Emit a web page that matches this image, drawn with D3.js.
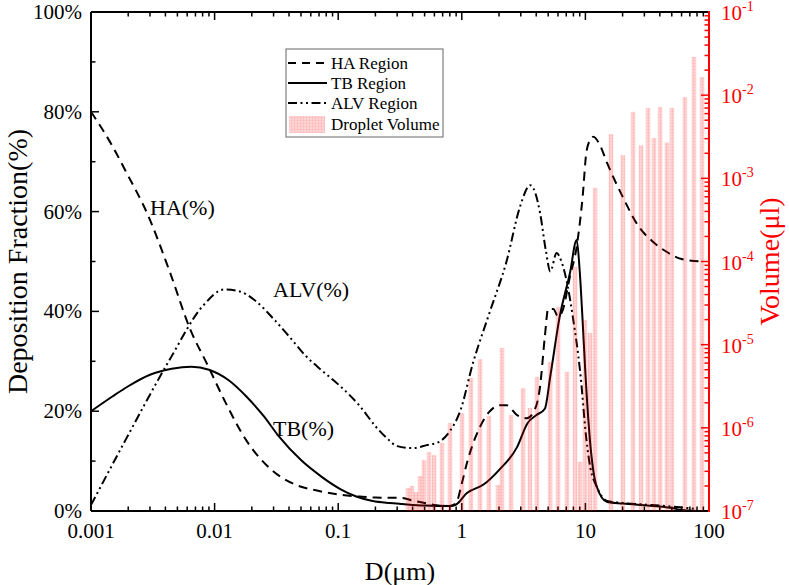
<!DOCTYPE html>
<html><head><meta charset="utf-8">
<script src="https://cdn.jsdelivr.net/npm/d3@7"></script>
<style>body{margin:0;background:#fff} svg{display:block} text{font-family:"Liberation Serif","Times New Roman",serif}</style>
</head><body><svg id="c" width="789" height="585"></svg>
<script>
// ---- data ----
const haD=[0.001,0.0015,0.0019,0.0029,0.0043,0.0064,0.0088,0.012,0.018,0.029,0.046,0.07,0.1,0.15,0.2,0.33,0.4,0.5,0.6,0.7,0.8,0.9,1.0,1.1,1.4,1.66,2.04,2.3,2.8,3.37,3.8,4.3,4.7,5.0,5.5,6.0,6.5,7.5,8.5,9.5,10.2,11,11.6,13,15,20,27,35,45,60,90];
const haP=[80,73,68.2,59.2,48.2,36.2,29.2,22.2,14.2,8.2,5.2,4.0,3.3,2.9,2.7,2.6,2.1,1.6,1.2,1.0,1.0,1.6,5.5,9.6,16.8,19.8,21.2,21.2,19.2,18.6,19.8,25,35,40.5,40.5,39,40,47,53,63,72,74.5,75,73.5,69.7,63,57,54,52,50.5,50];
const tbD=[0.001,0.0015,0.002,0.003,0.0045,0.0065,0.009,0.013,0.018,0.025,0.033,0.05,0.074,0.104,0.14,0.19,0.26,0.33,0.5,0.8,0.9,1.1,1.5,2.0,2.8,3.4,4.0,4.7,5.2,6.2,7.5,8.5,9.0,9.5,10,10.9,12.3,15,20,28,50,60,80];
const tbP=[20,23,25,27.3,28.5,28.9,28.3,26.2,23,19,15,10.2,6.8,4.4,2.9,2.0,1.6,1.4,1.1,1.0,1.3,3.6,5.3,8.2,12.8,17.6,19.2,20.5,27,39,47.7,54.3,48,38,27.6,14,5,1.8,1.5,1.2,0.6,0.2,0];
const alvD=[0.001,0.0019,0.0043,0.0081,0.012,0.016,0.021,0.03,0.04,0.055,0.075,0.104,0.15,0.2,0.25,0.3,0.4,0.52,0.65,0.8,0.97,1.23,1.69,2.3,2.96,3.57,3.9,4.3,4.8,5.2,5.85,6.4,7.2,7.9,9.1,10.2,11,12.3,15,20,30,50,80];
const alvP=[1.2,14.2,30.2,41.2,44.4,44,42.3,38.5,35,31,28,25,21,17,14.5,13,12.6,13.2,13.8,16,20,29.6,40,50,61,65.3,64,59.7,52,48,51.7,50,45,39,27.6,14.2,8.5,5,2,1.6,1.3,0.9,0.4];
const barD=[0.367,0.395,0.426,0.459,0.494,0.543,0.596,0.691,0.803,1.004,1.186,1.404,1.659,1.963,2.114,2.50,3.13,3.56,4.06,5.18,6.01,7.10,8.24,9.04,9.93,10.9,11.97,16.1,20.1,24.3,28.2,32.1,35.9,40.2,45.7,50.1,63.8,75.5,87.8];
const barV=[1.89e-7,2.0e-7,1.69e-7,2.64e-7,4.1e-7,5.1e-7,4.7e-7,6.6e-7,1.14e-6,1.5e-6,3.97e-6,6.7e-6,1.39e-6,2.06e-7,9.1e-6,1.43e-6,3.0e-6,1.73e-6,4.1e-6,6.2e-6,2.84e-5,4.7e-6,8.6e-5,3.9e-7,1.98e-5,1.38e-5,7.7e-4,3.4e-3,1.9e-3,6.3e-3,2.5e-3,7.0e-3,3.05e-3,7.2e-3,2.7e-3,7.0e-3,9.5e-3,2.88e-2,1.65e-2];
const xTicks=[0.001,0.01,0.1,1,10,100];
const xTickLabels=["0.001","0.01","0.1","1","10","100"];
const yTicks=[0,20,40,60,80,100];
const yTickLabels=["0%","20%","40%","60%","80%","100%"];
const vTicks=[1e-7,1e-6,1e-5,1e-4,1e-3,1e-2,1e-1];
const vExp=["-7","-6","-5","-4","-3","-2","-1"];
const legendLabels=["HA Region","TB Region","ALV Region","Droplet Volume"];

// ---- chart ----
const svg=d3.select("#c");
const L=91,R=709,T=12,B=511;
const x=d3.scaleLog().domain([0.001,100]).range([L,R]);
const y=d3.scaleLinear().domain([0,100]).range([B,T]);
const yv=d3.scaleLog().domain([1e-7,1e-1]).range([B,T]);
const FS=21;

const defs=svg.append("defs");
const pat=defs.append("pattern").attr("id","hatch").attr("patternUnits","userSpaceOnUse").attr("width",3).attr("height",3);
pat.append("rect").attr("width",3).attr("height",3).attr("fill","#ff0000").attr("fill-opacity",0.17);
pat.append("rect").attr("width",1).attr("height",3).attr("fill","#ff0000").attr("fill-opacity",0.08);
pat.append("rect").attr("width",3).attr("height",1).attr("fill","#ff0000").attr("fill-opacity",0.05);

const xMinor=[];xTicks.slice(0,-1).forEach(t=>{for(let k=2;k<10;k++)xMinor.push(t*k);});
const vMinor=[];vTicks.slice(0,-1).forEach(t=>{for(let k=2;k<10;k++)vMinor.push(t*k);});
const yMinor=[10,30,50,70,90];

const ax=svg.append("g");
xTicks.forEach(t=>{
  ax.append("line").attr("x1",x(t)).attr("x2",x(t)).attr("y1",B).attr("y2",B-8).attr("stroke","#000").attr("stroke-width",1.5);
  ax.append("line").attr("x1",x(t)).attr("x2",x(t)).attr("y1",T).attr("y2",T+8).attr("stroke","#000").attr("stroke-width",1.5);
});
xMinor.forEach(t=>{
  ax.append("line").attr("x1",x(t)).attr("x2",x(t)).attr("y1",B).attr("y2",B-4.5).attr("stroke","#000").attr("stroke-width",1.5);
  ax.append("line").attr("x1",x(t)).attr("x2",x(t)).attr("y1",T).attr("y2",T+4.5).attr("stroke","#000").attr("stroke-width",1.5);
});
yTicks.forEach(t=>ax.append("line").attr("x1",L).attr("x2",L+8).attr("y1",y(t)).attr("y2",y(t)).attr("stroke","#000").attr("stroke-width",1.5));
yMinor.forEach(t=>ax.append("line").attr("x1",L).attr("x2",L+4.5).attr("y1",y(t)).attr("y2",y(t)).attr("stroke","#000").attr("stroke-width",1.5));
vTicks.forEach(t=>ax.append("line").attr("x1",R).attr("x2",R-8).attr("y1",yv(t)).attr("y2",yv(t)).attr("stroke","#f00").attr("stroke-width",1.5));
vMinor.forEach(t=>ax.append("line").attr("x1",R).attr("x2",R-4.5).attr("y1",yv(t)).attr("y2",yv(t)).attr("stroke","#f00").attr("stroke-width",1.5));
ax.append("line").attr("x1",L).attr("x2",R).attr("y1",B).attr("y2",B).attr("stroke","#000").attr("stroke-width",2);
ax.append("line").attr("x1",L).attr("x2",R).attr("y1",T).attr("y2",T).attr("stroke","#000").attr("stroke-width",2);
ax.append("line").attr("x1",L).attr("x2",L).attr("y1",T).attr("y2",B).attr("stroke","#000").attr("stroke-width",2);

const line=d3.line().x(d=>x(d[0])).y(d=>y(d[1])).curve(d3.curveMonotoneX);
const cg=svg.append("g").attr("fill","none").attr("stroke","#000").attr("stroke-width",2);
cg.append("path").attr("d",line(haD.map((d,i)=>[d,haP[i]]))).attr("stroke-dasharray","9,6");
cg.append("path").attr("d",line(tbD.map((d,i)=>[d,tbP[i]])));
cg.append("path").attr("d",line(alvD.map((d,i)=>[d,alvP[i]]))).attr("stroke-dasharray","9,3.5,2,3.5,2,3.5");

const bw=4.5;
svg.append("g").selectAll("rect").data(barD).join("rect")
  .attr("x",d=>x(d)-bw/2).attr("width",bw)
  .attr("y",(d,i)=>yv(barV[i])).attr("height",(d,i)=>B-yv(barV[i]))
  .attr("fill","url(#hatch)");

svg.append("line").attr("x1",R).attr("x2",R).attr("y1",T-1).attr("y2",B+1).attr("stroke","#f00").attr("stroke-width",2);

const tl=svg.append("g").attr("font-size",FS);
xTicks.forEach((t,i)=>tl.append("text").attr("x",x(t)).attr("y",B+27).attr("text-anchor","middle").text(xTickLabels[i]));
yTicks.forEach((t,i)=>tl.append("text").attr("x",L-9).attr("y",y(t)+7).attr("text-anchor","end").text(yTickLabels[i]));
vTicks.forEach((t,i)=>{
  const tx=tl.append("text").attr("x",R+12).attr("y",yv(t)+8).attr("fill","#f00");
  tx.append("tspan").text("10");
  tx.append("tspan").attr("dy",-9).attr("font-size",14).text(vExp[i]);
});

svg.append("text").attr("transform",`translate(27,${(T+B)/2}) rotate(-90)`).attr("text-anchor","middle").attr("font-size",28).text("Deposition Fraction(%)");
svg.append("text").attr("transform",`translate(779,${(T+B)/2}) rotate(-90)`).attr("text-anchor","middle").attr("font-size",28).attr("fill","#f00").text("Volume(μl)");
svg.append("text").attr("x",(L+R)/2).attr("y",580).attr("text-anchor","middle").attr("font-size",26).text("D(μm)");

svg.append("text").attr("x",150).attr("y",215).attr("font-size",22).text("HA(%)");
svg.append("text").attr("x",273).attr("y",297).attr("font-size",22).text("ALV(%)");
svg.append("text").attr("x",273).attr("y",436).attr("font-size",22).text("TB(%)");

const lg=svg.append("g");
lg.append("rect").attr("x",286).attr("y",49).attr("width",157).attr("height",88).attr("fill","#fff").attr("stroke","#666").attr("stroke-width",1);
const rowY=[63,83,103,124];
const dashes=["8,6",null,"9,3.5,2,3.5,2,3.5"];
[0,1,2].forEach(i=>{
  const l=lg.append("line").attr("x1",288).attr("x2",327).attr("y1",rowY[i]).attr("y2",rowY[i]).attr("stroke","#000").attr("stroke-width",2);
  if(dashes[i])l.attr("stroke-dasharray",dashes[i]);
});
lg.append("rect").attr("x",289).attr("y",116).attr("width",36).attr("height",17).attr("fill","url(#hatch)");
legendLabels.forEach((s,i)=>lg.append("text").attr("x",331).attr("y",rowY[i]+6).attr("font-size",17).text(s));
</script></body></html>
